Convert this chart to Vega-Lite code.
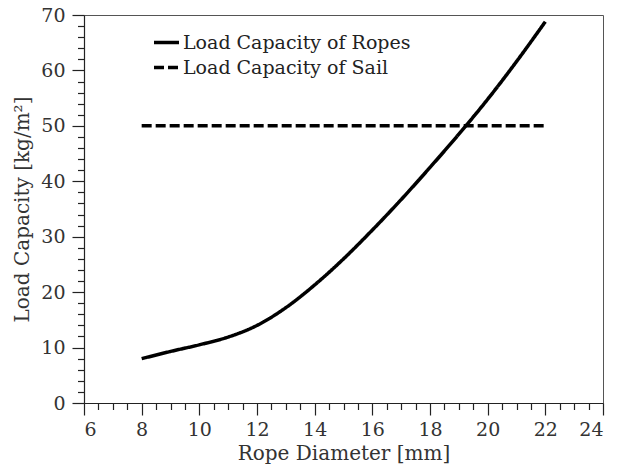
{
  "$schema": "https://vega.github.io/schema/vega-lite/v6.json",
  "width": 519,
  "height": 388,
  "autosize": {"type": "none"},
  "padding": {"left": 84, "top": 15, "right": 14, "bottom": 69},
  "background": "white",
  "config": {
    "font": "DejaVu Serif",
    "view": {"stroke": "#555", "strokeWidth": 1},
    "axis": {
      "labelFont": "DejaVu Serif",
      "titleFont": "DejaVu Serif",
      "labelFontSize": 19,
      "titleFontSize": 20,
      "labelColor": "#333",
      "titleColor": "#333",
      "titleFontWeight": "normal",
      "domainColor": "#222",
      "tickColor": "#222",
      "domainWidth": 1.2,
      "tickWidth": 1.2,
      "grid": false
    },
    "legend": {
      "labelFont": "DejaVu Serif",
      "labelFontSize": 19,
      "labelColor": "#222",
      "labelLimit": 400,
      "symbolType": "stroke",
      "symbolSize": 625,
      "symbolStrokeWidth": 3.5,
      "symbolStrokeColor": "black",
      "labelOffset": 2,
      "rowPadding": -4,
      "padding": 0
    }
  },
  "datasets": {
    "curves": [
      {"d": 8, "load": 8.0, "series": "Load Capacity of Ropes"},
      {"d": 9, "load": 9.3, "series": "Load Capacity of Ropes"},
      {"d": 10, "load": 10.5, "series": "Load Capacity of Ropes"},
      {"d": 11, "load": 11.9, "series": "Load Capacity of Ropes"},
      {"d": 12, "load": 14.0, "series": "Load Capacity of Ropes"},
      {"d": 13, "load": 17.2, "series": "Load Capacity of Ropes"},
      {"d": 14, "load": 21.3, "series": "Load Capacity of Ropes"},
      {"d": 15, "load": 26.0, "series": "Load Capacity of Ropes"},
      {"d": 16, "load": 31.2, "series": "Load Capacity of Ropes"},
      {"d": 17, "load": 36.7, "series": "Load Capacity of Ropes"},
      {"d": 18, "load": 42.5, "series": "Load Capacity of Ropes"},
      {"d": 19, "load": 48.5, "series": "Load Capacity of Ropes"},
      {"d": 20, "load": 54.8, "series": "Load Capacity of Ropes"},
      {"d": 21, "load": 61.6, "series": "Load Capacity of Ropes"},
      {"d": 22, "load": 68.8, "series": "Load Capacity of Ropes"},
      {"d": 8, "load": 50, "series": "Load Capacity of Sail"},
      {"d": 22, "load": 50, "series": "Load Capacity of Sail"}
    ]
  },
  "data": {"name": "curves"},
  "resolve": {"axis": {"x": "independent", "y": "independent"}},
  "layer": [
    {
      "mark": {"type": "point", "opacity": 0},
      "encoding": {
        "x": {
          "field": "d", "type": "quantitative",
          "scale": {"domain": [6, 24], "nice": false, "zero": false},
          "axis": {
            "orient": "bottom",
            "values": [6.5, 7, 7.5, 8.5, 9, 9.5, 10.5, 11, 11.5, 12.5, 13, 13.5, 14.5, 15, 15.5, 16.5, 17, 17.5, 18.5, 19, 19.5, 20.5, 21, 21.5, 22.5, 23, 23.5],
            "labels": false, "title": null, "domain": false, "tickSize": 6.5
          }
        },
        "y": {
          "field": "load", "type": "quantitative",
          "scale": {"domain": [0, 70], "nice": false},
          "axis": {
            "orient": "left",
            "values": [2, 4, 6, 8, 12, 14, 16, 18, 22, 24, 26, 28, 32, 34, 36, 38, 42, 44, 46, 48, 52, 54, 56, 58, 62, 64, 66, 68],
            "labels": false, "title": null, "domain": false, "tickSize": 6.5
          }
        }
      }
    },
    {
      "mark": {"type": "line", "color": "black", "strokeWidth": 3.5, "interpolate": "monotone", "strokeCap": "butt"},
      "encoding": {
        "x": {
          "field": "d", "type": "quantitative",
          "axis": {
            "orient": "bottom",
            "values": [6, 8, 10, 12, 14, 16, 18, 20, 22, 24],
            "title": "Rope Diameter [mm]", "tickSize": 12, "labelPadding": 5, "titlePadding": 4
          }
        },
        "y": {
          "field": "load", "type": "quantitative",
          "axis": {
            "orient": "left",
            "values": [0, 10, 20, 30, 40, 50, 60, 70],
            "title": "Load Capacity [kg/m²]", "tickSize": 12, "labelPadding": 7, "titlePadding": 8
          }
        },
        "strokeDash": {
          "field": "series", "type": "nominal",
          "scale": {
            "domain": ["Load Capacity of Ropes", "Load Capacity of Sail"],
            "range": [[1, 0], [10, 4]]
          },
          "legend": {"title": null, "orient": "none", "legendX": 68, "legendY": 13}
        }
      }
    }
  ]
}
